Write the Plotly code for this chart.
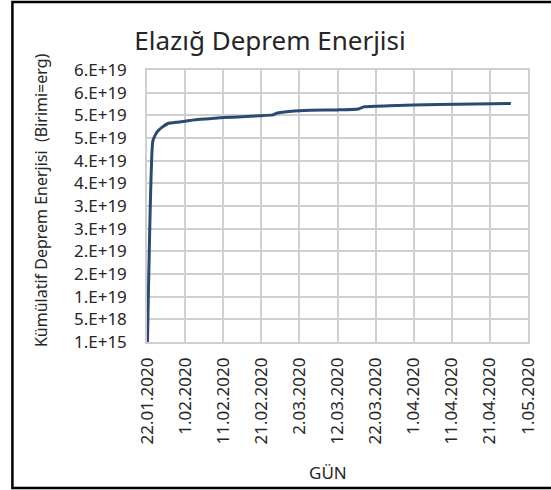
import plotly.graph_objects as go

# Data
dates = ["2020-01-22 03:00", "2020-01-23 12:00", "2020-01-24 06:00", "2020-01-24 22:00",
         "2020-01-26 00:00", "2020-01-27 12:00", "2020-01-30 00:00", "2020-02-01 00:00",
         "2020-02-03 12:00", "2020-02-06 12:00", "2020-02-11 00:00", "2020-02-16 00:00",
         "2020-02-20 12:00", "2020-02-24 00:00", "2020-02-25 00:00", "2020-02-29 00:00",
         "2020-03-05 00:00", "2020-03-12 00:00", "2020-03-17 12:00", "2020-03-19 00:00",
         "2020-03-25 12:00", "2020-04-07 12:00", "2020-04-17 00:00", "2020-04-26 12:00"]
energy_e19 = [0.0001, 4.42, 4.58, 4.66, 4.74, 4.82, 4.85, 4.87,
              4.90, 4.92, 4.95, 4.97, 4.99, 5.01, 5.045, 5.09,
              5.11, 5.12, 5.14, 5.19, 5.21, 5.24, 5.25, 5.26]
energy = [v * 1e19 for v in energy_e19]

x_tick_vals = ["2020-01-22", "2020-02-01", "2020-02-11", "2020-02-21", "2020-03-02",
               "2020-03-12", "2020-03-22", "2020-04-01", "2020-04-11", "2020-04-21", "2020-05-01"]
x_tick_text = ["22.01.2020", "1.02.2020", "11.02.2020", "21.02.2020", "2.03.2020",
               "12.03.2020", "22.03.2020", "1.04.2020", "11.04.2020", "21.04.2020", "1.05.2020"]
y_tick_vals = [1e15 + k * 5e18 for k in range(13)]
y_tick_text = ["1.E+15", "5.E+18", "1.E+19", "2.E+19", "2.E+19", "3.E+19", "3.E+19",
               "4.E+19", "4.E+19", "5.E+19", "5.E+19", "6.E+19", "6.E+19"]

FONT = "Noto Sans"
TXT = "#262626"
GRID = "#cfcfcf"

fig = go.Figure()
fig.add_trace(go.Scatter(x=dates, y=energy, mode="lines",
                         line=dict(color="#2b4a72", width=3, shape="spline", smoothing=0.4),
                         hoverinfo="x+y", showlegend=False))

fig.update_layout(
    width=551, height=490,
    margin=dict(l=147, r=19, t=70, b=148),
    paper_bgcolor="white", plot_bgcolor="white",
    font=dict(family=FONT, color=TXT, size=16),
    title=dict(text="Elazığ Deprem Enerjisi", x=0.49, xanchor="center",
               y=1 - 41 / 490, yanchor="middle",
               font=dict(family=FONT, size=26, color=TXT)),
    xaxis=dict(type="date", range=["2020-01-22", "2020-05-01"],
               tickmode="array", tickvals=x_tick_vals, ticktext=x_tick_text,
               tickangle=-90, tickfont=dict(size=17, color=TXT),
               showgrid=True, gridcolor=GRID, gridwidth=1.5,
               showline=True, linecolor=GRID, linewidth=1.5, mirror=True,
               ticks="", ticklabelstandoff=7, zeroline=False),
    yaxis=dict(range=[1e15, 1e15 + 12 * 5e18],
               tickmode="array", tickvals=y_tick_vals, ticktext=y_tick_text,
               tickfont=dict(size=17, color=TXT),
               showgrid=True, gridcolor=GRID, gridwidth=1.5,
               showline=True, linecolor=GRID, linewidth=1.5, mirror=True,
               ticks="", ticklabelstandoff=15, zeroline=False),
    annotations=[
        dict(text="Kümülatif Deprem Enerjisi  (Birimi=erg)", xref="paper", yref="paper",
             x=(40 - 147) / 385, y=(342 - 200) / 272, textangle=-90, showarrow=False,
             xanchor="center", yanchor="middle", font=dict(size=16, color=TXT)),
        dict(text="GÜN", xref="paper", yref="paper",
             x=(330 - 147) / 385, y=(342 - 472) / 272, showarrow=False,
             xanchor="center", yanchor="middle", font=dict(size=17, color=TXT)),
    ],
    shapes=[dict(type="rect", xref="paper", yref="paper",
                 x0=(11 - 147) / 385, x1=(640 - 147) / 385,
                 y0=(342 - 488) / 272, y1=(342 - 2) / 272,
                 line=dict(color="black", width=2.5), fillcolor="rgba(0,0,0,0)")],
)

fig.write_html("out.html", config={"displayModeBar": False},
               post_script="document.body.style.margin='0px';document.body.style.overflow='hidden';")
